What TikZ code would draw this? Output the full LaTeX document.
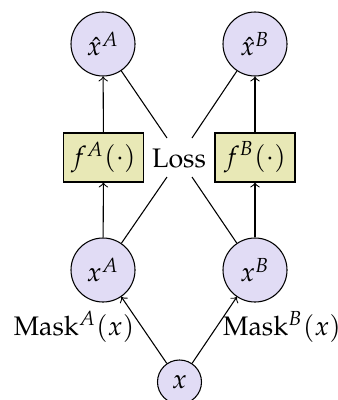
\documentclass[tikz,border=0pt]{standalone}
\usepackage[T1]{fontenc}
\usepackage{mathpazo}
\definecolor{lav}{RGB}{225,220,245}
\definecolor{olv}{RGB}{232,232,182}
\begin{document}
\begin{tikzpicture}[x=0.3731pt,y=-0.3731pt,
  circ/.style={circle,draw,fill=lav,inner sep=0pt,minimum size=64*0.3731pt},
  smallcirc/.style={circle,draw,fill=lav,inner sep=0pt,minimum size=44*0.3731pt},
  fbox/.style={rectangle,draw,fill=olv,inner sep=0pt,minimum width=80*0.3731pt,minimum height=49*0.3731pt},
  arr/.style={->},
  lnk/.style={-}]
\useasboundingbox (0,0) rectangle (338,400);
\node[circ] (ha) at (103,44) {$\hat{x}^A$};
\node[circ] (hb) at (255,44) {$\hat{x}^B$};
\node[fbox] (fa) at (103.5,157.5) {$f^A(\cdot)$};
\node[fbox] (fb) at (255,157.5) {$f^B(\cdot)$};
\node[inner sep=1pt] (loss) at (179,158) {Loss};
\coordinate (ltl) at (167,138);
\coordinate (ltr) at (192,138);
\coordinate (lbl) at (167,177);
\coordinate (lbr) at (192,177);
\node[circ] (xa) at (103,270) {$x^A$};
\node[circ] (xb) at (255,270) {$x^B$};
\node[smallcirc] (x) at (179.5,382) {$x$};
\node (ma) at (74,327) {Mask$^A(x)$};
\node (mb) at (282,327) {Mask$^B(x)$};
\draw[arr] (x) -- (xa);
\draw[arr] (x) -- (xb);
\draw[arr] (xa) -- (fa);
\draw[arr] (xb) -- (fb);
\draw[arr] (fa) -- (ha);
\draw[arr] (fb) -- (hb);
\draw[lnk] (ha) -- (ltl);
\draw[lnk] (hb) -- (ltr);
\draw[lnk] (xa) -- (lbl);
\draw[lnk] (xb) -- (lbr);
\end{tikzpicture}
\end{document}
